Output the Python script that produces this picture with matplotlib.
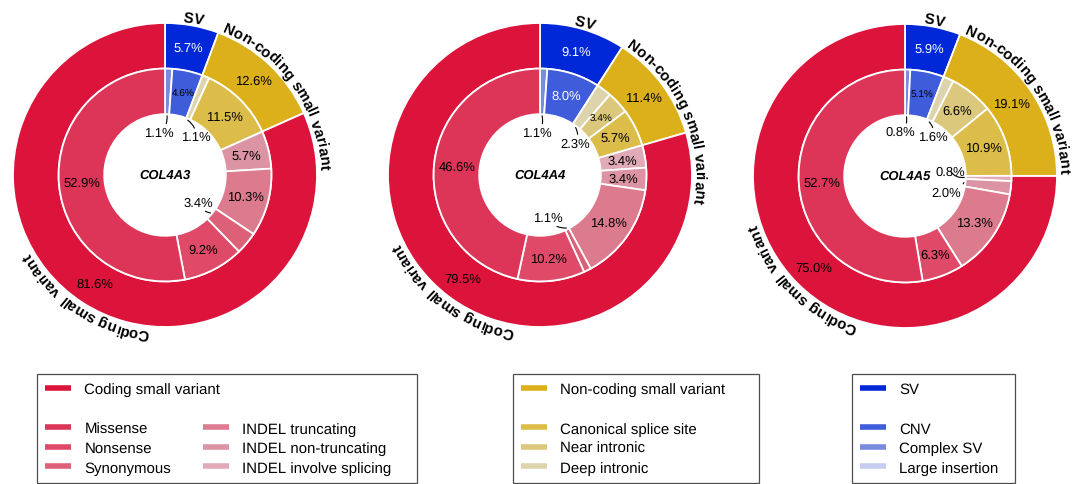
import numpy as np
import matplotlib
matplotlib.use("Agg")
import matplotlib.pyplot as plt
from matplotlib.lines import Line2D
from matplotlib.font_manager import FontProperties

plt.rcParams['font.family'] = ['Liberation Sans', 'DejaVu Sans']
plt.rcParams['text.hinting'] = 'no_hinting'
plt.rcParams['text.hinting_factor'] = 1

# ---- data ----
genes = ["COL4A3", "COL4A4", "COL4A5"]

outer_labels = ["SV", "Non-coding small variant", "Coding small variant"]
outer_colors = ["#0028D8", "#DBB01A", "#DC143C"]

# inner ring, clockwise from 12 o'clock
inner_labels = ["Large insertion", "Complex SV", "CNV",
                "Deep intronic", "Near intronic", "Canonical splice site",
                "INDEL involve splicing", "INDEL non-truncating", "INDEL truncating",
                "Synonymous", "Nonsense", "Missense"]
inner_colors = ["#C6CDF1", "#7A8ADD", "#3F5CDB",
                "#DDD4AE", "#DCC87D", "#DCBD4A",
                "#E0AAB7", "#DC93A3", "#DC7A8E",
                "#DC6178", "#DE4A68", "#DC3558"]

col4a3_outer = [5.7, 12.6, 81.6]
col4a3_inner = [0.0, 1.1, 4.6, 1.1, 0.0, 11.5, 0.0, 5.7, 10.3, 3.4, 9.2, 52.9]
col4a4_outer = [9.1, 11.4, 79.5]
col4a4_inner = [0.0, 1.1, 8.0, 2.3, 3.4, 5.7, 3.4, 3.4, 14.8, 1.1, 10.2, 46.6]
col4a5_outer = [5.9, 19.1, 75.0]
col4a5_inner = [0.0, 0.8, 5.1, 1.6, 6.6, 10.9, 0.8, 2.0, 13.3, 0.0, 6.3, 52.7]

outer_data = [col4a3_outer, col4a4_outer, col4a5_outer]
inner_data = [col4a3_inner, col4a4_inner, col4a5_inner]

# ---- layout tweaks (per panel) ----
centers_px = [(165, 176), (540, 176), (905, 177)]
R_PX = 152
LIM = 1.25
callouts = [
    {1: (-0.04, 0.28), 3: (0.20, 0.25), 9: (0.22, -0.18)},
    {1: (-0.02, 0.28), 3: (0.23, 0.21), 9: (0.05, -0.28)},
    {1: (-0.03, 0.29), 3: (0.18, 0.26), 6: (0.30, 0.03), 7: (0.27, -0.11)},
]
small_font = [{2}, {4}, {2}]
white_inner = [set(), {2}, set()]

W, H = 1080, 485
fig = plt.figure(figsize=(W / 100, H / 100), dpi=100)
renderer = fig.canvas.get_renderer()


def text_width(s, prop):
    # pixel advance of s, using a sentinel so trailing spaces count
    w1, _, _ = renderer.get_text_width_height_descent(s + "|", prop, ismath=False)
    w0, _, _ = renderer.get_text_width_height_descent("|", prop, ismath=False)
    return w1 - w0


def arc_text(ax, s, theta1, theta2, r, prop, r_px):
    """Write s clockwise along a circle, letters upright away from the centre."""
    total = text_width(s, prop)
    span = np.degrees(total / r_px)
    wspan = theta2 - theta1
    if span <= wspan:
        start = (theta1 + theta2) / 2 + span / 2
    else:
        start = theta2 - 1.0
    for i, ch in enumerate(s):
        if ch == " ":
            continue
        c = (text_width(s[:i], prop) + text_width(s[:i + 1], prop)) / 2
        th = start - np.degrees(c / r_px)
        t = np.radians(th)
        ax.text(r * np.cos(t), r * np.sin(t), ch, fontproperties=prop,
                rotation=th - 90, rotation_mode='anchor',
                ha='center', va='baseline')


bold_prop = FontProperties(family=['Liberation Sans', 'DejaVu Sans'], weight='bold', size=11)

for k in range(3):
    cx, cy = centers_px[k]
    S = 2 * LIM * R_PX
    ax = fig.add_axes([(cx - S / 2) / W, (H - cy - S / 2) / H, S / W, S / H])
    wedges_o, _ = ax.pie(outer_data[k], radius=1.0, colors=outer_colors,
                         startangle=90, counterclock=False,
                         wedgeprops=dict(width=0.30, edgecolor='white', linewidth=1.3))
    wedges_i, _ = ax.pie(inner_data[k], radius=0.70, colors=inner_colors,
                         startangle=90, counterclock=False,
                         wedgeprops=dict(width=0.30, edgecolor='white', linewidth=1.3))
    ax.set_xlim(-LIM, LIM)
    ax.set_ylim(-LIM, LIM)
    ax.set_aspect('equal')
    ax.set_axis_off()

    # outer percentages + curved group names
    for j, w in enumerate(wedges_o):
        mid = np.radians((w.theta1 + w.theta2) / 2)
        ax.text(0.85 * np.cos(mid), 0.85 * np.sin(mid), f"{outer_data[k][j]:.1f}%",
                ha='center', va='center', fontsize=9.5,
                color='white' if j == 0 else 'black')
        arc_text(ax, outer_labels[j], w.theta1, w.theta2, 1.02, bold_prop, 1.02 * R_PX)

    # inner percentages
    for j, w in enumerate(wedges_i):
        v = inner_data[k][j]
        if v == 0:
            continue
        mid = np.radians((w.theta1 + w.theta2) / 2)
        lab = f"{v:.1f}%"
        if j in callouts[k]:
            ax.annotate(lab, xy=(0.39 * np.cos(mid), 0.39 * np.sin(mid)),
                        xytext=callouts[k][j], ha='center', va='center', fontsize=9.5,
                        arrowprops=dict(arrowstyle='-', color='black', lw=0.8,
                                        shrinkA=0, shrinkB=0,
                                        connectionstyle='arc3,rad=0.3'))
        else:
            ax.text(0.55 * np.cos(mid), 0.55 * np.sin(mid), lab,
                    ha='center', va='center',
                    fontsize=7.5 if j in small_font[k] else 9.5,
                    color='white' if j in white_inner[k] else 'black')

    ax.text(0, 0, genes[k], ha='center', va='center', fontsize=9,
            fontweight='bold', fontstyle='italic')


# ---- legends ----
def handle(c):
    return Line2D([], [], color=c, lw=4, solid_capstyle='butt')


blank = Line2D([], [], color='none')
leg_kw = dict(loc='upper left', fontsize=11, handlelength=1.65, handletextpad=0.9,
              labelspacing=0.37, borderpad=0.55, borderaxespad=0.0)


def px_box(x, y_top, w):
    return (x / W, (H - y_top) / H, w / W, 0)


leg1 = fig.legend([handle(outer_colors[2]), blank, handle(inner_colors[11]),
                   handle(inner_colors[10]), handle(inner_colors[9])],
                  ["Coding small variant", " ", "Missense", "Nonsense", "Synonymous"],
                  bbox_to_anchor=px_box(37, 375, 380), mode='expand',
                  frameon=True, fancybox=False, edgecolor='#222222', **leg_kw)
leg1.get_frame().set_linewidth(0.9)
leg1b = fig.legend([blank, blank, handle(inner_colors[8]), handle(inner_colors[7]),
                    handle(inner_colors[6])],
                   [" ", " ", "INDEL truncating", "INDEL non-truncating",
                    "INDEL involve splicing"],
                   bbox_to_anchor=px_box(195, 375, 215), frameon=False, **leg_kw)

leg2 = fig.legend([handle(outer_colors[1]), blank, handle(inner_colors[5]),
                   handle(inner_colors[4]), handle(inner_colors[3])],
                  ["Non-coding small variant", " ", "Canonical splice site",
                   "Near intronic", "Deep intronic"],
                  bbox_to_anchor=px_box(513, 375, 246), mode='expand',
                  frameon=True, fancybox=False, edgecolor='#222222', **leg_kw)
leg2.get_frame().set_linewidth(0.9)

leg3 = fig.legend([handle(outer_colors[0]), blank, handle(inner_colors[2]),
                   handle(inner_colors[1]), handle(inner_colors[0])],
                  ["SV", " ", "CNV", "Complex SV", "Large insertion"],
                  bbox_to_anchor=px_box(852, 375, 163), mode='expand',
                  frameon=True, fancybox=False, edgecolor='#222222', **leg_kw)
leg3.get_frame().set_linewidth(0.9)

fig.savefig("out.png", dpi=100)
